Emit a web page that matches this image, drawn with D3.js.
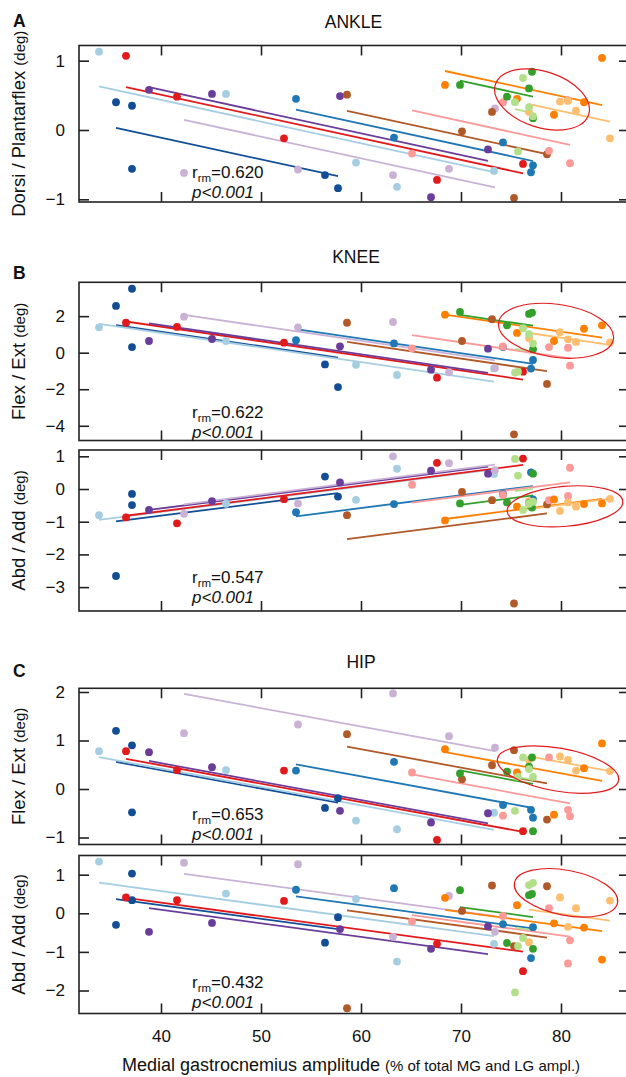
<!DOCTYPE html>
<html>
<head>
<meta charset="utf-8">
<script src="https://cdn.jsdelivr.net/npm/d3@7"></script>
<style>
  body { margin: 0; background: #fff; }
  svg text { font-family: "Liberation Sans", Arial, Helvetica, sans-serif; fill: #111; }
</style>
</head>
<body>
<svg id="chart" width="626" height="1077"></svg>
<script>
// ---- data: 12 subjects, 5 walking conditions each ----
const subjects = ["S1", "S2", "S3", "S4", "S5", "S6", "S7", "S8", "S9", "S10", "S11", "S12"];
const subjectColors = ["#124e96", "#a6cee3", "#e31a1c", "#6a3d9a", "#cab2d6", "#1f78b4",
                       "#b15928", "#fb9a99", "#ff7f00", "#fdbf6f", "#33a02c", "#b2df8a"];

// medial gastrocnemius amplitude (% of total MG and LG amplitude)
const mgAmplitude = [
  [35.5, 37.1, 37.1, 56.4, 57.7],
  [33.8, 46.5, 59.5, 63.6, 73.3],
  [36.5, 41.6, 52.3, 67.6, 76.2],
  [38.8, 45.1, 57.9, 67.0, 72.7],
  [42.3, 53.7, 63.2, 68.8, 73.4],
  [53.5, 63.3, 74.2, 77.0, 77.2],
  [58.6, 70.1, 73.1, 75.3, 78.6],
  [65.1, 74.2, 78.8, 80.7, 80.9],
  [68.4, 75.6, 79.3, 82.3, 84.1],
  [76.8, 79.9, 80.7, 81.5, 84.9],
  [69.9, 74.6, 76.8, 77.1, 77.2],
  [75.4, 75.7, 76.2, 76.8, 77.2]
];

// joint angle changes (deg)
const ankleDorsiPlantar = [
  [0.40, 0.35, -0.56, -0.65, -0.84],
  [1.13, 0.52, -0.47, -0.82, -0.59],
  [1.07, 0.48, -0.12, -0.72, -0.49],
  [0.58, 0.52, 0.49, -0.97, -0.28],
  [-0.62, -0.57, -0.65, -0.56, 0.31],
  [0.45, -0.11, -0.18, -0.61, -0.51],
  [0.51, -0.02, 0.26, -0.98, -0.35],
  [-0.34, 0.40, -0.30, 0.43, -0.48],
  [0.65, 0.45, 0.22, 0.40, 1.04],
  [0.26, 0.41, 0.42, 0.28, -0.12],
  [0.65, 0.48, 0.60, 0.84, 0.17],
  [0.40, -0.31, 0.75, 0.33, 0.20]
];
const kneeFlexExt = [
  [2.56, 3.50, 0.31, -0.64, -1.88],
  [1.39, 0.64, -0.66, -1.22, -0.86],
  [1.64, 1.41, 0.55, -1.37, -1.04],
  [0.64, 0.75, 0.35, -0.93, 0.22],
  [1.97, 1.39, 1.68, -1.07, -0.84],
  [0.68, 0.51, 0.31, -0.87, -0.40],
  [1.64, 0.64, 1.83, -4.47, -1.71],
  [0.24, 0.34, 0.31, 0.27, -0.71],
  [2.08, 1.08, 0.64, 1.31, 1.50],
  [0.79, 1.12, 0.73, 0.59, 0.57],
  [2.23, 1.50, 2.12, 2.19, 0.19],
  [-1.09, -1.04, 1.34, 1.01, 0.50]
];
const kneeAbdAdd = [
  [-2.66, -0.15, -0.49, 0.38, -0.23],
  [-0.80, -0.45, -0.33, 0.62, 0.46],
  [-0.87, -1.05, -0.31, 0.80, 0.93],
  [-0.64, -0.37, 0.20, 0.56, 0.47],
  [-0.76, -0.44, 1.00, 0.79, 0.58],
  [-0.71, -0.46, -0.16, 0.51, -0.32],
  [-0.80, -0.09, -0.34, -3.50, -0.47],
  [0.13, -0.18, -0.34, -0.21, 0.65],
  [-0.96, -0.54, -0.32, -0.46, -0.44],
  [-0.37, -0.67, -0.41, -0.54, -0.30],
  [-0.44, -0.41, -0.44, -0.57, 0.47],
  [0.92, 0.41, -0.64, -0.45, -0.39]
];
const hipFlexExt = [
  [1.20, 0.90, -0.48, -0.39, -0.19],
  [0.78, 0.39, -0.65, -0.83, -0.49],
  [0.78, 0.39, 0.38, -1.05, -0.87],
  [0.76, 0.45, -0.45, -0.69, -0.50],
  [1.15, 1.33, 1.97, 1.09, 0.85],
  [0.38, 0.56, -0.33, -0.43, -0.59],
  [1.13, 0.20, 0.49, 0.80, -0.63],
  [0.34, -0.55, 0.65, -0.43, -0.56],
  [0.82, 0.34, -0.53, 0.43, 0.94],
  [0.60, 0.67, 0.60, 0.38, 0.37],
  [0.32, 0.36, 0.46, 0.65, -0.87],
  [-0.45, 0.25, 0.65, 0.41, 0.25]
];
const hipAbdAdd = [
  [-0.30, 1.03, 0.34, -0.76, -0.10],
  [1.34, 0.51, 0.37, -1.25, -0.79],
  [0.41, 0.34, 0.32, -0.79, -1.50],
  [-0.48, -0.25, -0.41, -0.92, -0.34],
  [1.31, 1.27, -0.61, 0.45, -0.48],
  [0.61, 0.65, -0.28, -1.16, -0.36],
  [-2.46, 0.06, 0.72, -0.85, 0.70],
  [-0.21, -0.07, 0.13, -1.30, -0.70],
  [0.40, 0.21, -0.26, -0.37, -1.20],
  [-0.75, 0.41, -0.35, 0.13, 0.33],
  [0.60, -0.77, 0.47, 0.50, -0.92],
  [-2.05, -0.85, -0.64, 0.73, 0.79]
];

// repeated-measures correlation coefficients
const rmCorrValues = ["0.620", "0.622", "0.547", "0.653", "0.432"];
const pValueText = "p<0.001";

const xTicks = [40, 50, 60, 70, 80];
const ankleTicks = [-1, 0, 1];
const kneeFlexTicks = [-4, -2, 0, 2];
const kneeAbdTicks = [-3, -2, -1, 0, 1];
const hipFlexTicks = [-1, 0, 1, 2];
const hipAbdTicks = [-2, -1, 0, 1];

// highlighted cluster (data-space centre)
const clusterCentres = [[78.1, 0.44], [79.5, 1.2], [80.4, -0.53], [79.7, 0.40], [80.5, 0.53]];

// ---- layout ----
const svg = d3.select("#chart");
svg.append("rect").attr("width", 626).attr("height", 1077).attr("fill", "#fff");

const left = 79, right = 629;
const x = d3.scaleLinear().domain([31.8, 86.8]).range([left, right]);

const panels = [
  { values: ankleDorsiPlantar, ticks: ankleTicks, top: 45.5, bottom: 202, domain: [-1.039, 1.219],
    label: "Dorsi / Plantarflex ", title: "ANKLE", titleX: 353.5, titleY: 28, letter: "A", letterY: 27,
    rY: 178, ell: { rx: 49, ry: 28, angle: 18 } },
  { values: kneeFlexExt, ticks: kneeFlexTicks, top: 282.3, bottom: 440.5, domain: [-4.806, 3.853],
    label: "Flex / Ext ", title: "KNEE", titleX: 356, titleY: 263, letter: "B", letterY: 279,
    rY: 418, ell: { rx: 58, ry: 26.5, angle: 8 } },
  { values: kneeAbdAdd, ticks: kneeAbdTicks, top: 450, bottom: 611, domain: [-3.73, 1.193],
    label: "Abd / Add ", rY: 583, ell: { rx: 58, ry: 20, angle: -5 } },
  { values: hipFlexExt, ticks: hipFlexTicks, top: 688.3, bottom: 844.5, domain: [-1.144, 2.076],
    label: "Flex / Ext ", title: "HIP", titleX: 361, titleY: 668, letter: "C", letterY: 677,
    rY: 819.5, ell: { rx: 61.5, ry: 21.5, angle: 10 } },
  { values: hipAbdAdd, ticks: hipAbdTicks, top: 855.5, bottom: 1013.5, domain: [-2.596, 1.497],
    label: "Abd / Add ", rY: 988, ell: { rx: 52.5, ry: 22.5, angle: 11 } }
];

// repeated-measures correlation fit: common slope, subject-specific intercepts
function rmFit(xs, ys) {
  let sxy = 0, sxx = 0;
  const means = xs.map((xi, i) => {
    const mx = d3.mean(xi), my = d3.mean(ys[i]);
    xi.forEach((xv, j) => { sxy += (xv - mx) * (ys[i][j] - my); sxx += (xv - mx) ** 2; });
    return [mx, my];
  });
  const b = sxy / sxx;
  return xs.map((xi, i) => {
    const [mx, my] = means[i];
    const x0 = d3.min(xi), x1 = d3.max(xi);
    return { x0, x1, y0: my + b * (x0 - mx), y1: my + b * (x1 - mx), color: subjectColors[i] };
  });
}

const tickLen = 10;

panels.forEach((p, k) => {
  const y = d3.scaleLinear().domain(p.domain).range([p.bottom, p.top]);
  const g = svg.append("g");

  const clipId = "clip" + k;
  svg.append("clipPath").attr("id", clipId).append("rect")
    .attr("x", left).attr("y", p.top).attr("width", right - left).attr("height", p.bottom - p.top);

  const plot = g.append("g").attr("clip-path", `url(#${clipId})`);

  // regression lines per subject
  const fits = rmFit(mgAmplitude, p.values);
  plot.selectAll("line.fit").data(fits).join("line")
    .attr("class", "fit")
    .attr("x1", d => x(d.x0)).attr("x2", d => x(d.x1))
    .attr("y1", d => y(d.y0)).attr("y2", d => y(d.y1))
    .attr("stroke", d => d.color).attr("stroke-width", 1.8);

  // points
  const pts = [];
  mgAmplitude.forEach((xi, i) => xi.forEach((xv, j) => pts.push({ x: xv, y: p.values[i][j], c: subjectColors[i] })));
  plot.selectAll("circle").data(pts).join("circle")
    .attr("cx", d => x(d.x)).attr("cy", d => y(d.y)).attr("r", 3.9)
    .attr("fill", d => d.c);

  // highlighted cluster
  const [cx, cy] = clusterCentres[k];
  plot.append("ellipse")
    .attr("transform", `translate(${x(cx)},${y(cy)}) rotate(${p.ell.angle})`)
    .attr("rx", p.ell.rx).attr("ry", p.ell.ry)
    .attr("fill", "none").attr("stroke", "#e31a1c").attr("stroke-width", 1.2);

  // frame
  g.append("rect").attr("x", left).attr("y", p.top).attr("width", right - left).attr("height", p.bottom - p.top)
    .attr("fill", "none").attr("stroke", "#222").attr("stroke-width", 1.6);

  // axes with inward ticks on all sides
  const axL = d3.axisLeft(y).tickValues(p.ticks).tickSize(-tickLen).tickPadding(14).tickFormat(d3.format("d"));
  const axR = d3.axisRight(y).tickValues(p.ticks).tickSize(-tickLen).tickFormat("");
  const axT = d3.axisTop(x).tickValues(xTicks).tickSize(-tickLen).tickFormat("");
  const axB = d3.axisBottom(x).tickValues(xTicks).tickSize(-tickLen).tickPadding(16)
    .tickFormat(k === panels.length - 1 ? d3.format("d") : "");
  [[axL, `translate(${left},0)`], [axR, `translate(${right},0)`],
   [axT, `translate(0,${p.top})`], [axB, `translate(0,${p.bottom})`]].forEach(([ax, tr]) => {
    const a = g.append("g").attr("transform", tr).call(ax);
    a.select(".domain").remove();
    a.selectAll(".tick line").attr("stroke", "#222").attr("stroke-width", 1.6);
    a.selectAll(".tick text").attr("font-size", 17).attr("fill", "#111")
      .style("font-family", '"Liberation Sans", Arial, sans-serif');
  });

  // y-axis label
  const yl = svg.append("text")
    .attr("transform", `translate(25,${(p.top + p.bottom) / 2}) rotate(-90)`)
    .attr("text-anchor", "middle");
  yl.append("tspan").attr("font-size", 18.5).text(p.label);
  yl.append("tspan").attr("font-size", 15).text("(deg)");

  // stats annotation
  const rt = svg.append("text").attr("x", 192).attr("y", p.rY).attr("font-size", 17);
  rt.append("tspan").text("r");
  rt.append("tspan").attr("font-size", 11.5).attr("dy", 4).text("rm");
  rt.append("tspan").attr("dy", -4).text("=" + rmCorrValues[k]);
  svg.append("text").attr("x", 192).attr("y", p.rY + 20).attr("font-size", 17)
    .attr("font-style", "italic").text(pValueText);

  if (p.title) {
    svg.append("text").attr("x", p.titleX).attr("y", p.titleY).attr("text-anchor", "middle")
      .attr("font-size", 17.5).text(p.title);
    svg.append("text").attr("x", 13).attr("y", p.letterY).attr("font-size", 17.5)
      .attr("font-weight", "bold").text(p.letter);
  }
});

// x-axis title
const xt = svg.append("text").attr("x", 351).attr("y", 1071).attr("text-anchor", "middle");
xt.append("tspan").attr("font-size", 18).text("Medial gastrocnemius amplitude ");
xt.append("tspan").attr("font-size", 15).text("(% of total MG and LG ampl.)");
</script>
</body>
</html>
